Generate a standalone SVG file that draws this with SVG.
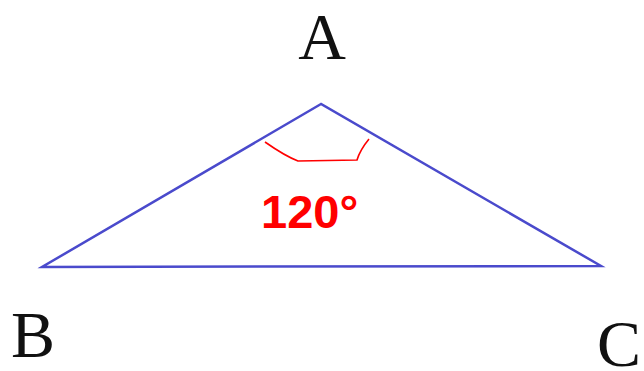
<svg xmlns="http://www.w3.org/2000/svg" width="644" height="371" viewBox="0 0 644 371">
<style>
.lbl{font-family:"Liberation Serif","Times New Roman",serif;font-size:66px;fill:#111}
.ang{font-family:"Liberation Sans",Arial,sans-serif;font-size:47px;font-weight:bold;fill:#ff0000}
</style>
<rect width="644" height="371" fill="#ffffff"/>
<g id="connectors">
<polygon points="321,104 42,267 601,266" fill="none" stroke="#4a4acc" stroke-width="2.5" stroke-linejoin="miter"/>
<path d="M265,142 Q285,156 298,161 L357,160 Q360,150 369,139" fill="none" stroke="#ff0000" stroke-width="1.6"/>
</g>
<g id="A"><text class="lbl" x="322" y="59" text-anchor="middle">A</text></g>
<g id="B"><text class="lbl" x="33" y="357" text-anchor="middle">B</text></g>
<g id="C"><text class="lbl" x="619" y="366" text-anchor="middle">C</text></g>
<g id="angle"><text class="ang" x="261" y="228">120°</text></g>
</svg>
